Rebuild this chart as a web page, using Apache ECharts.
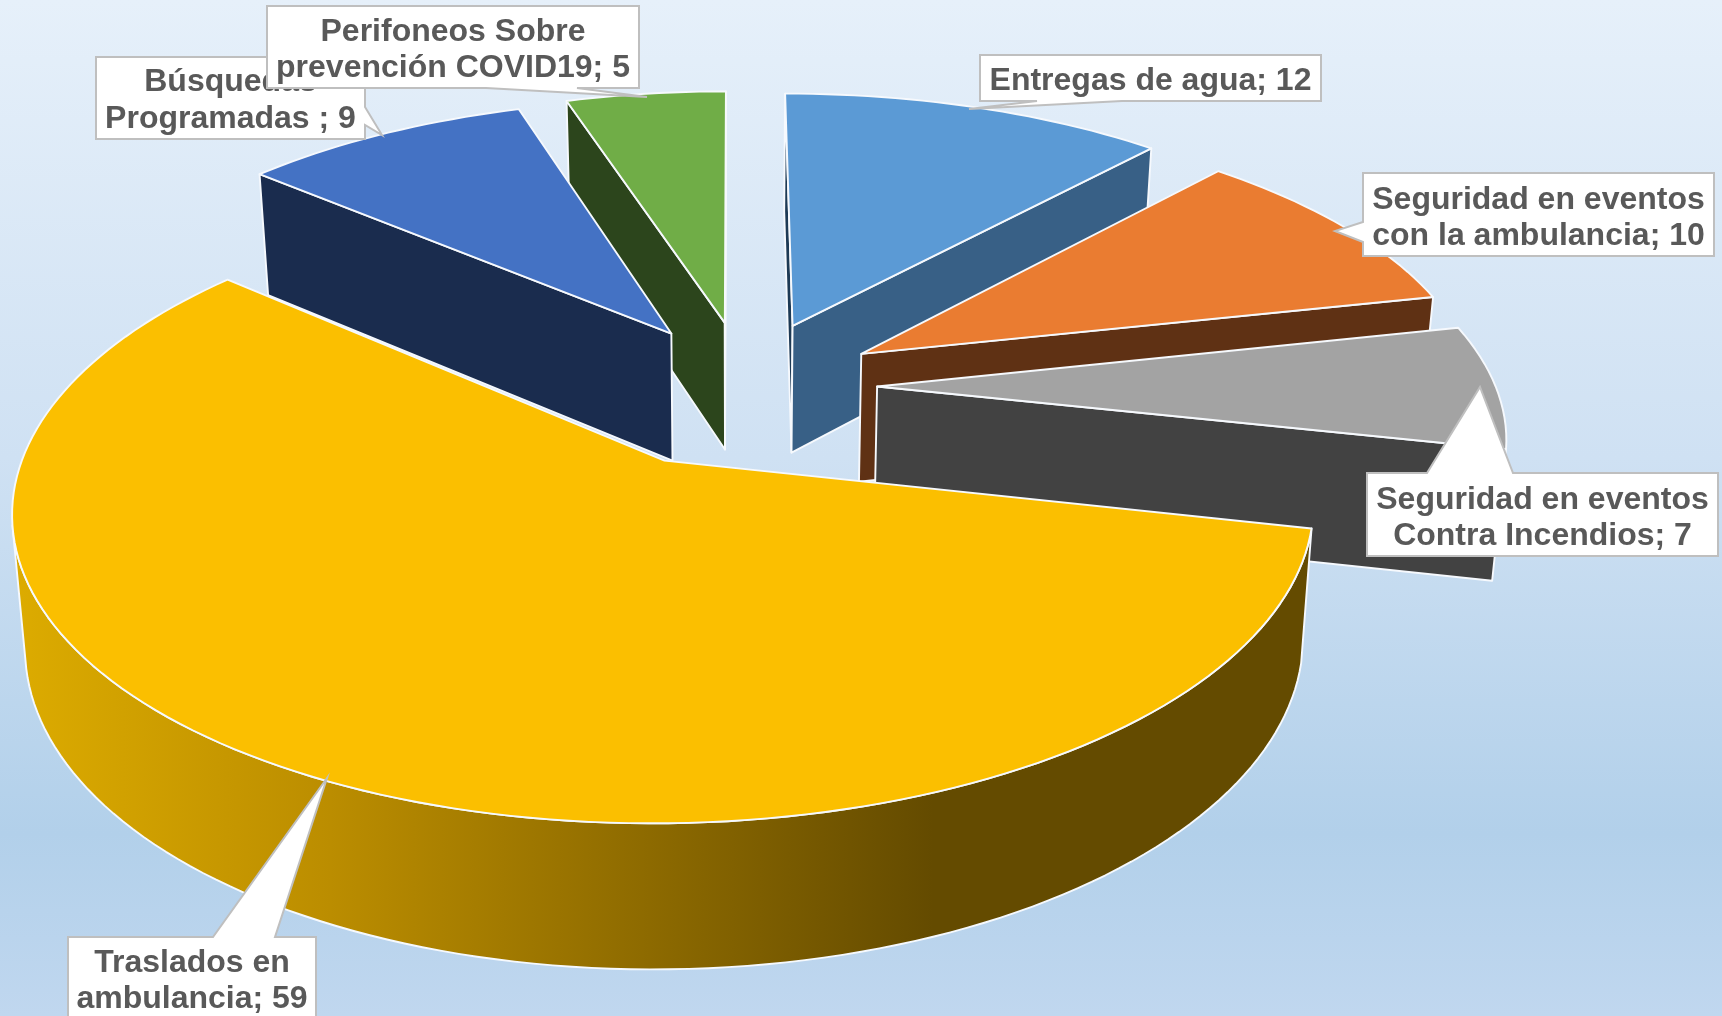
<!DOCTYPE html>
<html><head><meta charset="utf-8">
<style>html,body{margin:0;padding:0;background:#fff}#c{width:1722px;height:1016px}</style>
<script src="https://cdn.jsdelivr.net/npm/echarts@6/dist/echarts.min.js"></script>
</head><body><div id="c"></div>
<script>
// ---- data ----
const categories = [
  'Entregas de agua',
  'Seguridad en eventos\ncon la ambulancia',
  'Seguridad en eventos\nContra Incendios',
  'Traslados en\nambulancia',
  'Búsquedas\nProgramadas ',
  'Perifoneos Sobre\nprevención COVID19'
];
const values = [12, 10, 7, 59, 9, 5];

// ---- styles ----
const topColors  = ['#5b9ad5', '#ea7c31', '#a3a3a3', '#fbbf00', '#4472c4', '#70ad47'];
const wallColors = ['#386086', '#5f3114', '#424242', '#665000', '#1a2c4e', '#2c451c'];
const startWallColors = ['#1d3a55', '#5f3114', '#424242', '#665000', '#1a2c4e', '#2c451c'];
const paintRank  = [2, 3, 4, 5, 1, 0];           // back to front

// ---- layout: exploded offset of each slice on the pie plane (radius = 1) ----
const explodeU = [0.0985, 0.2100, 0.2320, -0.1075, -0.1035, -0.0147];
const explodeV = [-0.2420, -0.1380, -0.0210, 0.2305, -0.2130, -0.2530];
const CX = 733.6, CY = 392.5, RX = 620.5, RY = 285.5, PERSP = 0.15;
const DEPTH = 120.8, DEPTH_SLOPE = 0.0389, DEPTH_REF = 173.5, SHRINK = 0.982;

// ---- callouts ----
const callouts = [
  {box:[980,55,1321,101],  side:'bottom', wedge:[[1037,101],[969,109],[1122,101]], lines:[81.5]},
  {box:[1363,173,1714,256],side:'left',   wedge:[[1363,222],[1335,231],[1363,242]], lines:[200.2,236.5]},
  {box:[1367,473,1718,556],side:'top',    wedge:[[1427,473],[1480,387],[1513,473]], lines:[499.5,536.5]},
  {box:[68,937,316,1030],  side:'top',    wedge:[[213,937],[327,778],[275,937]], lines:[962.5,999.5]},
  {box:[96,57,365,139],    side:'right',  wedge:[[365,107],[382,135],[365,125]], lines:[83,118.5]},
  {box:[267,6,639,88],     side:'bottom', wedge:[[486,88],[647,97],[577,88]], lines:[32,68]}
];

const total = values.reduce((a, b) => a + b, 0);
const startShare = values.map((_, i) => values.slice(0, i).reduce((a, b) => a + b, 0) / total);

function project(u, v, low) {
  const w = 1 - PERSP * v;
  let x = CX + RX * u / w, y = CY + RY * v / w;
  if (low) {
    y = y + DEPTH + DEPTH_SLOPE * (y - DEPTH_REF);
    x = CX + (x - CX) * SHRINK;
  }
  return [x, y];
}
function rimPoints(i, share, low, steps) {
  const a0 = startShare[i] * 2 * Math.PI, a1 = a0 + share * 2 * Math.PI, pts = [];
  for (let s = 0; s <= steps; s++) {
    const a = a0 + (a1 - a0) * s / steps;
    pts.push(project(explodeU[i] + Math.sin(a), explodeV[i] - Math.cos(a), low));
  }
  return pts;
}
// shoelace, y pointing down: positive = visually clockwise
function area(pts) {
  let s = 0;
  pts.forEach((p, k) => { const q = pts[(k + 1) % pts.length]; s += p[0] * q[1] - q[0] * p[1]; });
  return s / 2;
}
const lineStyle = {stroke: '#f6f9fd', lineWidth: 1.9, lineJoin: 'round'};
const yellowWall = {type:'linear', x:20, y:0, x2:933, y2:0, global:true, colorStops:[
  {offset:0, color:'#dcab00'}, {offset:0.34, color:'#bb8d00'}, {offset:1, color:'#644b00'}]};

function renderSlice(params, api) {
  const i = params.dataIndex, share = api.value(0) / total;
  const steps = Math.max(12, Math.round(share * 240));
  const topRim = rimPoints(i, share, false, steps), lowRim = rimPoints(i, share, true, steps);
  const apexT = project(explodeU[i], explodeV[i], false), apexL = project(explodeU[i], explodeV[i], true);
  const z0 = paintRank[i] * 10;
  const poly = (points, fill, z2) => ({type:'polygon', z2, shape:{points},
    style:Object.assign({fill}, lineStyle)});
  const children = [];
  // only faces turned towards the viewer are painted
  const startWall = [apexT, topRim[0], lowRim[0], apexL];
  const endWall = [apexT, topRim[steps], lowRim[steps], apexL];
  if (area(startWall) < 0) children.push(poly(startWall, startWallColors[i], z0));
  if (area(endWall) > 0) children.push(poly(endWall, wallColors[i], z0 + 1));
  let first = -1, lastSeg = -1;
  for (let s = 0; s < steps; s++) {
    if (area([topRim[s], topRim[s + 1], lowRim[s + 1], lowRim[s]]) < 0) {
      if (first < 0) first = s;
      lastSeg = s;
    }
  }
  if (first >= 0) {
    const arcWall = topRim.slice(first, lastSeg + 2).concat(lowRim.slice(first, lastSeg + 2).reverse());
    children.push(poly(arcWall, i === 3 ? yellowWall : wallColors[i], z0 + 2));
  }
  children.push(poly([apexT].concat(topRim), topColors[i], z0 + 3));
  return {type:'group', children};
}
function renderCallout(params, api) {
  const i = params.dataIndex, c = callouts[i], [x0, y0, x1, y1] = c.box, [w1, tip, w2] = c.wedge;
  let outline;
  if (c.side === 'top') outline = [[x0,y0], w1, tip, w2, [x1,y0], [x1,y1], [x0,y1]];
  if (c.side === 'bottom') outline = [[x0,y0], [x1,y0], [x1,y1], w2, tip, w1, [x0,y1]];
  if (c.side === 'left') outline = [[x0,y0], [x1,y0], [x1,y1], [x0,y1], w2, tip, w1];
  if (c.side === 'right') outline = [[x0,y0], [x1,y0], w1, tip, w2, [x1,y1], [x0,y1]];
  const text = categories[i] + '; ' + api.value(0);
  const yMid = c.lines.reduce((a, b) => a + b, 0) / c.lines.length;
  const z2 = 100 + i * 2;
  return {type:'group', children:[
    {type:'polygon', z2, shape:{points:outline}, style:{fill:'#fff', stroke:'#bfbfbf', lineWidth:2}},
    {type:'text', z2:z2 + 1, x:(x0 + x1) / 2, y:yMid, style:{text, fill:'#595959',
      font:'bold 32px "Liberation Sans", Arial, sans-serif', lineHeight:36.4,
      align:'center', verticalAlign:'middle'}}
  ]};
}
const chart = echarts.init(document.getElementById('c'), null, {renderer:'canvas'});
const seriesData = values.map((v, i) => ({name:categories[i], value:[v]}));
chart.setOption({
  animation:false,
  backgroundColor:{type:'linear', x:0.05, y:0, x2:0.05, y2:1, colorStops:[
    {offset:0, color:'#e6f0fa'}, {offset:0.45, color:'#cfe1f3'},
    {offset:0.82, color:'#b2d0ea'}, {offset:1, color:'#c0d7ef'}]},
  series:[
    {type:'custom', coordinateSystem:'none', silent:true, clip:false, renderItem:renderSlice, data:seriesData},
    {type:'custom', coordinateSystem:'none', silent:true, clip:false, renderItem:renderCallout, data:seriesData}
  ]
});
</script></body></html>
